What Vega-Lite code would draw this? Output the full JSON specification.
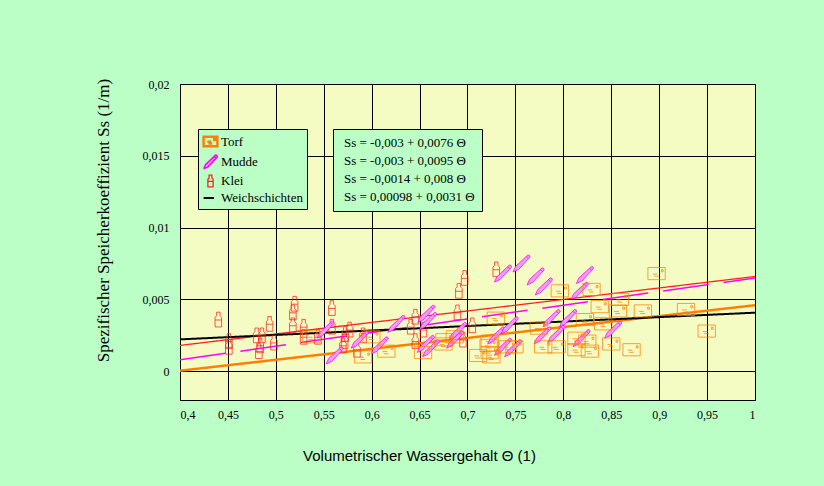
{
  "$schema": "https://vega.github.io/schema/vega-lite/v6.json",
  "autosize": {"type": "none"},
  "width": 575,
  "height": 316,
  "padding": {"left": 180, "top": 84, "right": 69, "bottom": 86},
  "background": "#bbffc6",
  "config": {
    "view": {"fill": "#f4fcc4", "stroke": "black", "strokeWidth": 1},
    "font": "Liberation Serif"
  },
  "datasets": {
    "punkte": [
      {"Typ": "Klei", "Theta": 0.440, "Ss": 0.0036},
      {"Typ": "Klei", "Theta": 0.451, "Ss": 0.0021},
      {"Typ": "Klei", "Theta": 0.451, "Ss": 0.0017},
      {"Typ": "Klei", "Theta": 0.480, "Ss": 0.0025},
      {"Typ": "Klei", "Theta": 0.4855, "Ss": 0.0025},
      {"Typ": "Klei", "Theta": 0.4837, "Ss": 0.0018},
      {"Typ": "Klei", "Theta": 0.4823, "Ss": 0.0014},
      {"Typ": "Klei", "Theta": 0.4935, "Ss": 0.0033},
      {"Typ": "Klei", "Theta": 0.498, "Ss": 0.0020},
      {"Typ": "Klei", "Theta": 0.5196, "Ss": 0.0047},
      {"Typ": "Klei", "Theta": 0.5178, "Ss": 0.0041},
      {"Typ": "Klei", "Theta": 0.5178, "Ss": 0.0032},
      {"Typ": "Klei", "Theta": 0.529, "Ss": 0.0031},
      {"Typ": "Klei", "Theta": 0.529, "Ss": 0.0024},
      {"Typ": "Klei", "Theta": 0.5439, "Ss": 0.0024},
      {"Typ": "Klei", "Theta": 0.5585, "Ss": 0.0044},
      {"Typ": "Klei", "Theta": 0.5585, "Ss": 0.0031},
      {"Typ": "Klei", "Theta": 0.5725, "Ss": 0.0026},
      {"Typ": "Klei", "Theta": 0.577, "Ss": 0.0029},
      {"Typ": "Klei", "Theta": 0.5718, "Ss": 0.0021},
      {"Typ": "Klei", "Theta": 0.570, "Ss": 0.0018},
      {"Typ": "Klei", "Theta": 0.591, "Ss": 0.0025},
      {"Typ": "Klei", "Theta": 0.5847, "Ss": 0.0015},
      {"Typ": "Klei", "Theta": 0.6456, "Ss": 0.0038},
      {"Typ": "Klei", "Theta": 0.6407, "Ss": 0.0031},
      {"Typ": "Klei", "Theta": 0.654, "Ss": 0.0029},
      {"Typ": "Klei", "Theta": 0.6456, "Ss": 0.0021},
      {"Typ": "Klei", "Theta": 0.6895, "Ss": 0.0041},
      {"Typ": "Klei", "Theta": 0.691, "Ss": 0.0056},
      {"Typ": "Klei", "Theta": 0.697, "Ss": 0.0065},
      {"Typ": "Klei", "Theta": 0.705, "Ss": 0.0032},
      {"Typ": "Klei", "Theta": 0.6953, "Ss": 0.0022},
      {"Typ": "Klei", "Theta": 0.730, "Ss": 0.0071},
      {"Typ": "Mudde", "Theta": 0.552, "Ss": 0.0029},
      {"Typ": "Mudde", "Theta": 0.5614, "Ss": 0.0011},
      {"Typ": "Mudde", "Theta": 0.5875, "Ss": 0.0022},
      {"Typ": "Mudde", "Theta": 0.6084, "Ss": 0.0018},
      {"Typ": "Mudde", "Theta": 0.6258, "Ss": 0.0033},
      {"Typ": "Mudde", "Theta": 0.657, "Ss": 0.0040},
      {"Typ": "Mudde", "Theta": 0.6589, "Ss": 0.0035},
      {"Typ": "Mudde", "Theta": 0.6564, "Ss": 0.0019},
      {"Typ": "Mudde", "Theta": 0.662, "Ss": 0.0016},
      {"Typ": "Mudde", "Theta": 0.687, "Ss": 0.0022},
      {"Typ": "Mudde", "Theta": 0.690, "Ss": 0.0028},
      {"Typ": "Mudde", "Theta": 0.737, "Ss": 0.0068},
      {"Typ": "Mudde", "Theta": 0.7563, "Ss": 0.0075},
      {"Typ": "Mudde", "Theta": 0.771, "Ss": 0.0066},
      {"Typ": "Mudde", "Theta": 0.7796, "Ss": 0.0059},
      {"Typ": "Mudde", "Theta": 0.8225, "Ss": 0.0067},
      {"Typ": "Mudde", "Theta": 0.817, "Ss": 0.0056},
      {"Typ": "Mudde", "Theta": 0.730, "Ss": 0.0025},
      {"Typ": "Mudde", "Theta": 0.744, "Ss": 0.0032},
      {"Typ": "Mudde", "Theta": 0.737, "Ss": 0.0017},
      {"Typ": "Mudde", "Theta": 0.7476, "Ss": 0.0016},
      {"Typ": "Mudde", "Theta": 0.7877, "Ss": 0.0037},
      {"Typ": "Mudde", "Theta": 0.805, "Ss": 0.0037},
      {"Typ": "Mudde", "Theta": 0.7783, "Ss": 0.0025},
      {"Typ": "Mudde", "Theta": 0.7928, "Ss": 0.0026},
      {"Typ": "Mudde", "Theta": 0.819, "Ss": 0.0023},
      {"Typ": "Mudde", "Theta": 0.852, "Ss": 0.0029},
      {"Typ": "Torf", "Theta": 0.537, "Ss": 0.0024},
      {"Typ": "Torf", "Theta": 0.591, "Ss": 0.0010},
      {"Typ": "Torf", "Theta": 0.5997, "Ss": 0.0024},
      {"Typ": "Torf", "Theta": 0.6153, "Ss": 0.0014},
      {"Typ": "Torf", "Theta": 0.6536, "Ss": 0.0013},
      {"Typ": "Torf", "Theta": 0.675, "Ss": 0.0019},
      {"Typ": "Torf", "Theta": 0.6867, "Ss": 0.0024},
      {"Typ": "Torf", "Theta": 0.676, "Ss": 0.0022},
      {"Typ": "Torf", "Theta": 0.711, "Ss": 0.0011},
      {"Typ": "Torf", "Theta": 0.7232, "Ss": 0.0013},
      {"Typ": "Torf", "Theta": 0.7232, "Ss": 0.0021},
      {"Typ": "Torf", "Theta": 0.722, "Ss": 0.0018},
      {"Typ": "Torf", "Theta": 0.7295, "Ss": 0.0037},
      {"Typ": "Torf", "Theta": 0.725, "Ss": 0.0010},
      {"Typ": "Torf", "Theta": 0.742, "Ss": 0.0017},
      {"Typ": "Torf", "Theta": 0.749, "Ss": 0.0017},
      {"Typ": "Torf", "Theta": 0.7744, "Ss": 0.0030},
      {"Typ": "Torf", "Theta": 0.7963, "Ss": 0.0056},
      {"Typ": "Torf", "Theta": 0.779, "Ss": 0.0017},
      {"Typ": "Torf", "Theta": 0.793, "Ss": 0.0017},
      {"Typ": "Torf", "Theta": 0.8294, "Ss": 0.0057},
      {"Typ": "Torf", "Theta": 0.838, "Ss": 0.0045},
      {"Typ": "Torf", "Theta": 0.859, "Ss": 0.0050},
      {"Typ": "Torf", "Theta": 0.857, "Ss": 0.0042},
      {"Typ": "Torf", "Theta": 0.883, "Ss": 0.0042},
      {"Typ": "Torf", "Theta": 0.8225, "Ss": 0.0036},
      {"Typ": "Torf", "Theta": 0.8416, "Ss": 0.0033},
      {"Typ": "Torf", "Theta": 0.8137, "Ss": 0.0023},
      {"Typ": "Torf", "Theta": 0.825, "Ss": 0.0021},
      {"Typ": "Torf", "Theta": 0.8137, "Ss": 0.0015},
      {"Typ": "Torf", "Theta": 0.8277, "Ss": 0.0014},
      {"Typ": "Torf", "Theta": 0.850, "Ss": 0.0019},
      {"Typ": "Torf", "Theta": 0.8712, "Ss": 0.0015},
      {"Typ": "Torf", "Theta": 0.8973, "Ss": 0.0068},
      {"Typ": "Torf", "Theta": 0.928, "Ss": 0.0043},
      {"Typ": "Torf", "Theta": 0.9496, "Ss": 0.0028}
    ],
    "linien": [
      {"Typ": "Torf", "Gleichung": "Ss = -0,003 + 0,0076 Θ", "Theta": 0.4, "Ss": 0.00004},
      {"Typ": "Torf", "Gleichung": "Ss = -0,003 + 0,0076 Θ", "Theta": 1.0, "Ss": 0.0046},
      {"Typ": "Mudde", "Gleichung": "Ss = -0,003 + 0,0095 Θ", "Theta": 0.4, "Ss": 0.0008},
      {"Typ": "Mudde", "Gleichung": "Ss = -0,003 + 0,0095 Θ", "Theta": 1.0, "Ss": 0.0065},
      {"Typ": "Klei", "Gleichung": "Ss = -0,0014 + 0,008 Θ", "Theta": 0.4, "Ss": 0.0018},
      {"Typ": "Klei", "Gleichung": "Ss = -0,0014 + 0,008 Θ", "Theta": 1.0, "Ss": 0.0066},
      {"Typ": "Weichschichten", "Gleichung": "Ss = 0,00098 + 0,0031 Θ", "Theta": 0.4, "Ss": 0.00222},
      {"Typ": "Weichschichten", "Gleichung": "Ss = 0,00098 + 0,0031 Θ", "Theta": 1.0, "Ss": 0.00408}
    ]
  },
  "encoding": {
    "x": {
      "field": "Theta", "type": "quantitative",
      "scale": {"domain": [0.4, 1], "nice": false, "zero": false},
      "axis": {
        "values": [0.4, 0.45, 0.5, 0.55, 0.6, 0.65, 0.7, 0.75, 0.8, 0.85, 0.9, 0.95, 1],
        "labelExpr": "replace(format(datum.value, '.2~f'), '.', ',')",
        "grid": true, "gridColor": "black", "gridOpacity": 1, "gridWidth": 1,
        "ticks": false, "domain": false,
        "labelFont": "Liberation Serif", "labelFontSize": 12, "labelColor": "black", "labelPadding": 9,
        "title": "Volumetrischer Wassergehalt Θ (1)",
        "titleFont": "Liberation Sans", "titleFontSize": 15, "titleFontWeight": "normal", "titleColor": "black",
        "titleX": 239, "titleY": 55, "titleAlign": "center", "titleBaseline": "middle"
      }
    },
    "y": {
      "field": "Ss", "type": "quantitative",
      "scale": {"domain": [-0.002, 0.02], "nice": false, "zero": false},
      "axis": {
        "values": [0, 0.005, 0.01, 0.015, 0.02],
        "labelExpr": "replace(format(datum.value, '.3~f'), '.', ',')",
        "grid": true, "gridColor": "black", "gridOpacity": 1, "gridWidth": 1,
        "ticks": false, "domain": false,
        "labelFont": "Liberation Serif", "labelFontSize": 12, "labelColor": "black", "labelPadding": 11,
        "title": "Spezifischer Speicherkoeffizient Ss (1/m)",
        "titleFont": "Liberation Serif", "titleFontSize": 17, "titleFontWeight": "normal", "titleColor": "black",
        "titleX": -77, "titleY": 136, "titleAlign": "center", "titleBaseline": "middle", "titleAngle": -90
      }
    }
  },
  "layer": [
    {
      "data": {"name": "linien"},
      "mark": {"type": "line", "clip": true},
      "encoding": {
        "stroke": {
          "field": "Typ", "type": "nominal",
          "scale": {"domain": ["Torf", "Mudde", "Klei", "Weichschichten"], "range": ["#ff8000", "#ff00ff", "#ff2020", "#000000"]},
          "legend": {
            "orient": "none", "legendX": 18, "legendY": 45, "title": null,
            "fillColor": "#bbffc6", "strokeColor": "black", "padding": 4, "rowPadding": 0,
            "labelFont": "Liberation Serif", "labelFontSize": 13, "labelColor": "black", "labelOffset": 2,
            "symbolSize": 190, "symbolStrokeWidth": 1.5
          }
        },
        "strokeDash": {
          "field": "Typ", "type": "nominal",
          "scale": {"domain": ["Torf", "Mudde", "Klei", "Weichschichten"], "range": [[1, 0], [46, 15], [1, 0], [1, 0]]},
          "legend": null
        },
        "strokeWidth": {
          "field": "Typ", "type": "nominal",
          "scale": {"type": "ordinal", "domain": ["Torf", "Mudde", "Klei", "Weichschichten"], "range": [2.5, 1.5, 1.3, 2]},
          "legend": null
        },
        "opacity": {
          "field": "Gleichung", "type": "nominal",
          "scale": {"type": "ordinal", "domain": ["Ss = -0,003 + 0,0076 Θ", "Ss = -0,003 + 0,0095 Θ", "Ss = -0,0014 + 0,008 Θ", "Ss = 0,00098 + 0,0031 Θ"], "range": [1, 1, 1, 1]},
          "sort": null,
          "legend": {
            "orient": "none", "legendX": 153, "legendY": 45, "title": null,
            "fillColor": "#bbffc6", "strokeColor": "black", "padding": 7, "rowPadding": 4,
            "labelFont": "Liberation Serif", "labelFontSize": 13, "labelColor": "black", "labelOffset": -9,
            "symbolSize": 1, "symbolOpacity": 0, "symbolStrokeWidth": 0, "symbolStrokeColor": "transparent", "symbolFillColor": "transparent"
          }
        }
      }
    },
    {
      "data": {"name": "punkte"},
      "mark": {"type": "point", "filled": true, "size": 300, "strokeWidth": 1, "strokeOpacity": 0.75, "opacity": 1},
      "encoding": {
        "stroke": {
          "field": "Typ", "type": "nominal",
          "scale": {"domain": ["Torf", "Mudde", "Klei", "Weichschichten"], "range": ["#ff8000", "#ff00ff", "#ff2020", "#000000"]},
          "legend": {
            "orient": "none", "legendX": 18, "legendY": 45, "title": null,
            "fillColor": "#bbffc6", "strokeColor": "black", "padding": 4, "rowPadding": 0,
            "labelFont": "Liberation Serif", "labelFontSize": 13, "labelColor": "black", "labelOffset": 2,
            "symbolSize": 190, "symbolStrokeWidth": 1.5
          }
        },
        "fill": {
          "field": "Typ", "type": "nominal",
          "scale": {"domain": ["Torf", "Mudde", "Klei", "Weichschichten"], "range": ["transparent", "#f29af2", "transparent", "transparent"]},
          "legend": {
            "orient": "none", "legendX": 18, "legendY": 45, "title": null,
            "fillColor": "#bbffc6", "strokeColor": "black", "padding": 4, "rowPadding": 0,
            "labelFont": "Liberation Serif", "labelFontSize": 13, "labelColor": "black", "labelOffset": 2,
            "symbolSize": 190, "symbolStrokeWidth": 1.5
          }
        },
        "shape": {
          "field": "Typ", "type": "nominal",
          "scale": {
            "domain": ["Torf", "Mudde", "Klei", "Weichschichten"],
            "range": [
              "M-1,-0.7H1V0.7H-1Z M0.55,-0.45H0.75V-0.2H0.55Z M-0.45,0.05H0.1 M-0.3,0.3H0.25",
              "M-0.98,0.98L-0.7,0.35L0.75,-1Q1,-1 1,-0.75L-0.35,0.7Z M0.55,-0.8L0.8,-0.55",
              "M-0.38,0.85V-0.25L-0.2,-0.45V-0.85H0.2V-0.45L0.38,-0.25V0.85Z M-0.38,0.05H0.38",
              "M-1,0H0.5"
            ]
          },
          "legend": {
            "orient": "none", "legendX": 18, "legendY": 45, "title": null,
            "fillColor": "#bbffc6", "strokeColor": "black", "padding": 4, "rowPadding": 0,
            "labelFont": "Liberation Serif", "labelFontSize": 13, "labelColor": "black", "labelOffset": 2,
            "symbolSize": 190, "symbolStrokeWidth": 1.5
          }
        }
      }
    }
  ]
}
